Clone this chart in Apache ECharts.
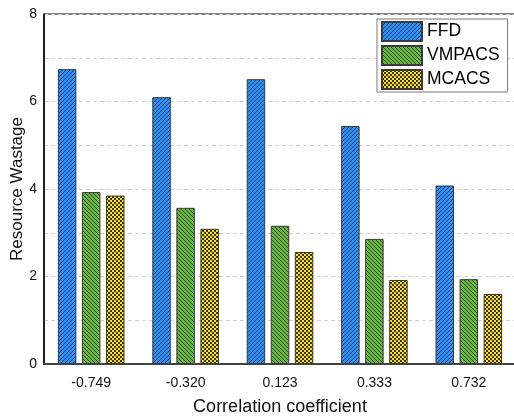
<!DOCTYPE html>
<html><head><meta charset="utf-8">
<script src="https://cdn.jsdelivr.net/npm/echarts@6/dist/echarts.min.js"></script>
<style>html,body{margin:0;padding:0;background:#fff}#c{width:514px;height:418px}</style>
</head><body><div id="c"></div>
<script>
const categories = ['-0.749', '-0.320', '0.123', '0.333', '0.732'];
const ffd = [6.74, 6.10, 6.51, 5.44, 4.08];
const vmpacs = [3.93, 3.57, 3.16, 2.86, 1.94];
const mcacs = [3.85, 3.09, 2.56, 1.92, 1.60];
const yTicks = [0, 2, 4, 6, 8];

function hatch(bg, fg, kind) {
  const s = 4;
  const c = document.createElement('canvas');
  c.width = s; c.height = s;
  const g = c.getContext('2d');
  g.fillStyle = bg; g.fillRect(0, 0, s, s);
  g.fillStyle = fg;
  if (kind === 'check') {
    g.fillRect(0, 0, 2, 2); g.fillRect(2, 2, 2, 2);
  } else {
    for (let i = 0; i < s; i++) {
      const x = kind === 'fwd' ? (s - 1 - i) : i;
      g.fillRect(x, i, 1, 1);
    }
  }
  return { image: c, repeat: 'repeat' };
}

const chart = echarts.init(document.getElementById('c'), null, { renderer: 'canvas' });
const font = 'Arial, "Liberation Sans", sans-serif';
const barStyle = (col) => ({ color: col, borderColor: '#3a3a3a', borderWidth: 1 });
chart.setOption({
  animation: false,
  grid: { left: 44, top: 14, width: 472, height: 350, containLabel: false, outerBoundsMode: 'none',
    show: true, borderColor: '#000', borderWidth: 1, backgroundColor: 'transparent' },
  legend: {
    left: 377, top: 19, orient: 'vertical', itemWidth: 40, itemHeight: 19, itemGap: 3,
    padding: [2, 8, 2, 4], borderColor: '#777', borderWidth: 1, backgroundColor: '#fff',
    textStyle: { fontFamily: font, fontSize: 17.5, lineHeight: 19, color: '#000', padding: [0, 0, 0, 0] },
    icon: 'rect',
    data: ['FFD', 'VMPACS', 'MCACS']
  },
  xAxis: {
    type: 'category', data: categories,
    name: 'Correlation coefficient', nameLocation: 'middle', nameGap: 34, nameMoveOverlap: false,
    nameTextStyle: { fontFamily: font, fontSize: 18, color: '#111' },
    axisLine: { lineStyle: { color: '#444', width: 2 } },
    axisTick: { show: false },
    axisLabel: { fontFamily: font, fontSize: 14, color: '#111', margin: 12 }
  },
  yAxis: {
    type: 'value', min: 0, max: 8, interval: 1,
    name: 'Resource Wastage', nameLocation: 'middle', nameGap: 18, nameMoveOverlap: false,
    nameTextStyle: { fontFamily: font, fontSize: 17, color: '#111' },
    axisLine: { show: true, lineStyle: { color: '#000', width: 1.5 } },
    axisTick: { show: false },
    axisLabel: { fontFamily: font, fontSize: 14, color: '#111', margin: 7,
      formatter: v => (yTicks.indexOf(v) >= 0 ? String(v) : '') },
    splitLine: { show: true, lineStyle: { color: '#d0d0d0', type: [4, 3], width: 1 } }
  },
  series: [
    { name: 'FFD', type: 'bar', data: ffd, barWidth: 18.5, barGap: '30%', itemStyle: barStyle(hatch('#2f8ff2', '#15427a', 'fwd')) },
    { name: 'VMPACS', type: 'bar', data: vmpacs, barWidth: 18.5, barGap: '30%', itemStyle: barStyle(hatch('#6cb444', '#24501a', 'back')) },
    { name: 'MCACS', type: 'bar', data: mcacs, barWidth: 18.5, barGap: '30%', itemStyle: barStyle(hatch('#fae327', '#3a3200', 'check')) }
  ]
});
</script></body></html>
